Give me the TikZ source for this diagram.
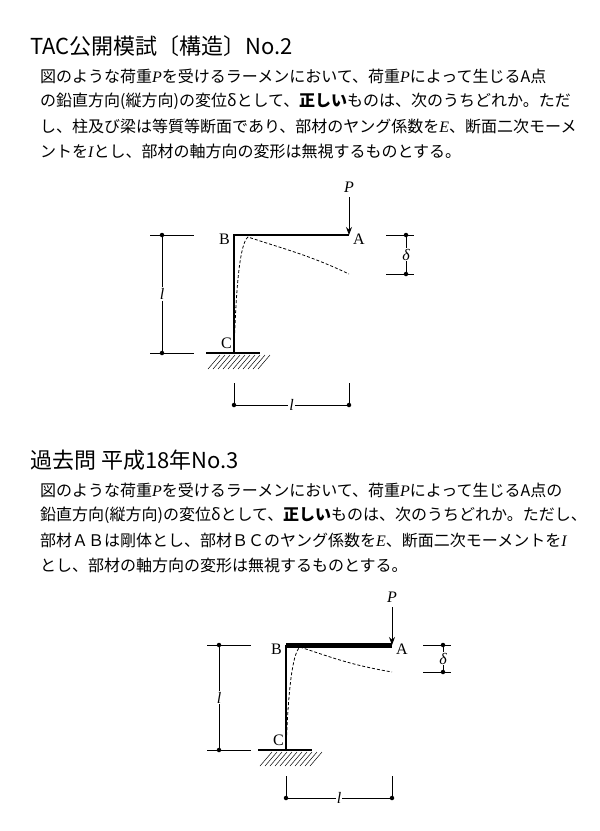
\documentclass[tikz,border=0pt]{standalone}
\usepackage{fontspec}
\setmainfont{Noto Sans CJK JP}
\newfontfamily\latin{Liberation Serif}
\usetikzlibrary{arrows, arrows.meta, calc, positioning}
\tikzstyle{member} = [line width=1.6pt]
\tikzstyle{rigid} = [line width=5pt]
\tikzstyle{deflect} = [dash pattern=on 3pt off 2pt, line width=0.8pt]
\tikzstyle{dim} = [line width=0.5pt]
\tikzstyle{dot} = [circle, fill, inner sep=0pt, minimum size=4.5pt]
\tikzstyle{arrow} = [line width=1pt,-{Stealth[length=8pt,width=6pt]}]
\tikzstyle{lbl} = [font=\latin\fontsize{16}{16}\selectfont, inner sep=1pt]
\tikzstyle{para} = [anchor=west, inner sep=0pt, font=\fontsize{16}{18}\selectfont]
\tikzstyle{title} = [anchor=west, inner sep=0pt, font=\fontsize{22}{24}\selectfont]
\newcommand{\vv}[1]{{\latin\itshape #1}}
\newcommand{\frameFig}[8]{%
  % #1 B x, #2 B y, #3 A x, #4 C y, #5 left dim x, #6 delta x, #7 delta y, #8 bottom dim y
  \coordinate (B#1) at (#1,#2);
  \coordinate (A#1) at (#3,#2);
  \coordinate (C#1) at (#1,#4);
  % ground
  \draw [member] (#1-28,#4) -- (#1+26,#4);
  \foreach \i in {0,...,10} \draw [dim] (#1-26+\i*5,#4+16) -- (#1-26+\i*5+12,#4+2);
  \node (Bl#1) [lbl, anchor=east] at (#1-3,#2+4) {B};
  \node (Al#1) [lbl, anchor=west] at (#3+3,#2+4) {A};
  \node (Cl#1) [lbl, anchor=east] at (#1-1,#4-10) {C};
  \node (P#1) [lbl] at (#3,#2-48) {\vv{P}};
  \draw [arrow] (#3,#2-38) -- (A#1);
  % dims
  \node (dl1#1) [dot] at (#5,#2) {};
  \node (dl2#1) [dot] at (#5,#4) {};
  \draw [dim] (#5-12,#2) -- (#5+32,#2) (#5-12,#4) -- (#5+32,#4);
  \node (l1#1) [lbl] at ($(dl1#1)!0.5!(dl2#1)$) {\vv{l}};
  \draw [dim] (dl1#1) -- (l1#1) -- (dl2#1);
  \node (dd1#1) [dot] at (#6,#2) {};
  \node (dd2#1) [dot] at (#6,#7) {};
  \draw [dim] (#6-20,#2) -- (#6+8,#2) (#6-20,#7) -- (#6+8,#7);
  \node (de#1) [lbl] at ($(dd1#1)!0.5!(dd2#1)$) {\vv{δ}};
  \draw [dim] (dd1#1) -- (de#1) -- (dd2#1);
  \node (db1#1) [dot] at (#1,#8) {};
  \node (db2#1) [dot] at (#3,#8) {};
  \draw [dim] (#1,#8-22) -- (db1#1) (#3,#8-22) -- (db2#1);
  \node (l2#1) [lbl] at ($(db1#1)!0.5!(db2#1)$) {\vv{l}};
  \draw [dim] (db1#1) -- (l2#1) -- (db2#1);
  \draw [deflect] (C#1) .. controls (#1+2,#2+50) and (#1+6,#2+8) .. (#1+14,#2+2)
        .. controls (#1+50,#2+14) and (#3-40,#2+20) .. (#3,#7);
}
\begin{document}
\begin{tikzpicture}[x=1pt,y=-1pt]
\useasboundingbox (0,0) rectangle (600,831);
\node (T1) [title] at (30,46) {TAC公開模試〔構造〕No.2};
\node (L11) [para] at (40,76) {図のような荷重\vv{P}を受けるラーメンにおいて、荷重\vv{P}によって生じるA点};
\node (L12) [para] at (40,101) {の鉛直方向(縦方向)の変位δとして、\textbf{正しい}ものは、次のうちどれか。ただ};
\node (L13) [para] at (40,126) {し、柱及び梁は等質等断面であり、部材のヤング係数を\vv{E}、断面二次モーメ};
\node (L14) [para] at (40,151) {ントを\vv{I}とし、部材の軸方向の変形は無視するものとする。};
\frameFig{234}{235}{349}{353}{162}{406}{274}{405}
\draw [member] (C234) -- (B234) -- (A234);
\node (T2) [title] at (30,460) {過去問 平成18年No.3};
\node (L21) [para] at (40,490) {図のような荷重\vv{P}を受けるラーメンにおいて、荷重\vv{P}によって生じるA点の};
\node (L22) [para] at (40,515) {鉛直方向(縦方向)の変位δとして、\textbf{正しい}ものは、次のうちどれか。ただし、};
\node (L23) [para] at (40,540) {部材ＡＢは剛体とし、部材ＢＣのヤング係数を\vv{E}、断面二次モーメントを\vv{I}};
\node (L24) [para] at (40,565) {とし、部材の軸方向の変形は無視するものとする。};
\frameFig{286}{645}{392}{750}{219}{443}{672}{798}
\draw [member] (C286) -- (B286);
\draw [rigid] (B286) -- (A286);
\end{tikzpicture}
\end{document}
